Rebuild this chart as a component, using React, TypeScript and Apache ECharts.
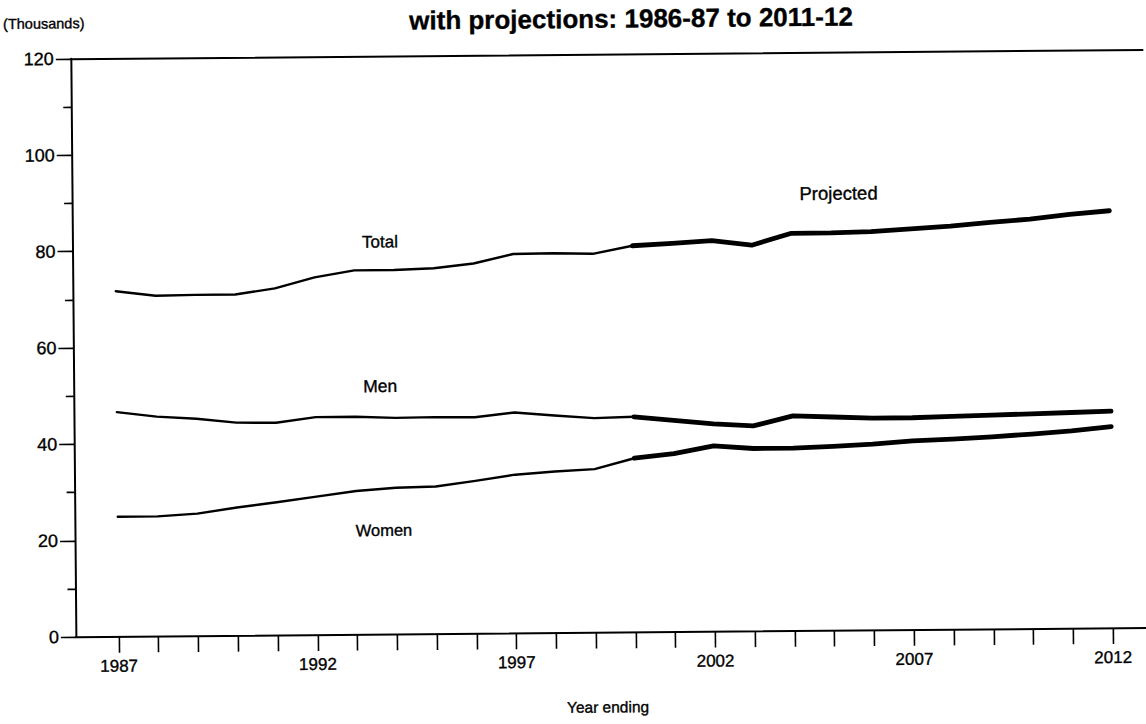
import React, { useEffect, useRef } from "react";
import * as echarts from "echarts";

const years = [1987, 1988, 1989, 1990, 1991, 1992, 1993, 1994, 1995, 1996, 1997, 1998, 1999, 2000, 2001, 2002, 2003, 2004, 2005, 2006, 2007, 2008, 2009, 2010, 2011, 2012];
const total = [71.7, 70.7, 70.8, 70.8, 72.0, 74.2, 75.6, 75.6, 75.9, 76.8, 78.7, 78.8, 78.6, 80.2, 80.6, 81.1, 80.1, 82.5, 82.5, 82.7, 83.2, 83.7, 84.4, 85.0, 85.9, 86.6];
const men = [46.6, 45.6, 45.1, 44.2, 44.1, 45.2, 45.2, 44.9, 45.0, 44.9, 45.8, 45.1, 44.5, 44.7, 43.9, 43.1, 42.6, 44.6, 44.3, 44.0, 44.0, 44.2, 44.4, 44.6, 44.8, 45.0];
const women = [24.9, 24.9, 25.4, 26.6, 27.6, 28.7, 29.8, 30.4, 30.6, 31.7, 32.9, 33.5, 33.9, 36.1, 37.0, 38.5, 37.9, 37.9, 38.2, 38.6, 39.2, 39.5, 39.9, 40.4, 41.0, 41.8];
const projectionStart = 2000;
const labelYears = [1987, 1992, 1997, 2002, 2007, 2012];
const seriesNames = ["Total", "Men", "Women"];

const FONT = "'Liberation Sans', Arial, sans-serif";

export default function App() {
  const ref = useRef<HTMLDivElement>(null);
  useEffect(() => {
    document.body.style.margin = "0";
    document.body.style.overflow = "hidden";
    const chart = echarts.init(ref.current!, null, { renderer: "svg" });
    const allSeries = [total, men, women];
    const series: any[] = [];
    allSeries.forEach((vals, i) => {
      const actual = years.map((y, k) => [y, vals[k]]).filter((d) => d[0] <= projectionStart);
      const proj = years.map((y, k) => [y, vals[k]]).filter((d) => d[0] >= projectionStart);
      series.push({
        name: seriesNames[i],
        type: "line",
        data: actual,
        showSymbol: false,
        symbol: "none",
        lineStyle: { color: "#000", width: 2.4, join: "round", cap: "round" },
        z: 3,
      });
      series.push({
        name: seriesNames[i] + " projected",
        type: "line",
        data: proj,
        showSymbol: false,
        symbol: "none",
        lineStyle: { color: "#000", width: 4.8, join: "round", cap: "round" },
        z: 3,
      });
    });
    const xMin = 1985.92;
    const xMax = 2012.89;
    const txt = (text: string, x: number, y: number, size: number, align = "center", weight = "normal") => ({
      type: "text",
      x,
      y,
      style: {
        text,
        fill: "#000",
        font: `${weight} ${size}px ${FONT}`,
        textAlign: align,
        textVerticalAlign: "middle",
        stroke: "#000",
        lineWidth: 0.35,
      },
    });
    chart.setOption({
      animation: false,
      backgroundColor: "#fff",
      grid: { left: 73.5, top: 54.5, right: 0, bottom: 91.3, containLabel: false },
      xAxis: [
        {
          type: "value",
          position: "bottom",
          min: xMin,
          max: xMax,
          axisLine: { show: true, lineStyle: { color: "#000", width: 2 } },
          axisTick: { show: true, customValues: years, length: 16, lineStyle: { color: "#000", width: 1.6 } },
          axisLabel: {
            customValues: labelYears,
            margin: 21,
            color: "#000",
            fontSize: 17,
            fontFamily: FONT,
            textBorderColor: "#000",
            textBorderWidth: 0.35,
            formatter: (v: number) => String(v),
          },
          splitLine: { show: false },
        },
        {
          type: "value",
          position: "top",
          min: xMin,
          max: xMax,
          axisLine: { show: true, lineStyle: { color: "#000", width: 2 } },
          axisTick: { show: false },
          axisLabel: { show: false },
          splitLine: { show: false },
        },
      ],
      yAxis: {
        type: "value",
        min: 0,
        max: 120,
        interval: 20,
        axisLine: { show: true, lineStyle: { color: "#000", width: 2 } },
        axisTick: { show: true, length: 15, lineStyle: { color: "#000", width: 1.6 } },
        minorTick: { show: true, splitNumber: 2, length: 8, lineStyle: { color: "#000", width: 1.6 } },
        axisLabel: {
          margin: 17,
          color: "#000",
          fontSize: 18,
          fontFamily: FONT,
          textBorderColor: "#000",
          textBorderWidth: 0.35,
        },
        splitLine: { show: false },
      },
      graphic: [
        txt("with projections: 1986-87 to 2011-12", 634, 19, 26, "center", "bold"),
        txt("(Thousands)", 6, 19, 14.5, "left"),
        txt("Total", 381, 240.3, 17),
        txt("Men", 380, 384.3, 17.5),
        txt("Women", 382.5, 528.3, 16.5),
        txt("Projected", 840, 195.5, 18.5),
        txt("Year ending", 605, 707.3, 15.5),
      ],
      series,
    });
    return () => chart.dispose();
  }, []);
  return (
    <div
      ref={ref}
      style={{
        position: "absolute",
        left: 0,
        top: 0,
        width: 1146,
        height: 724,
        background: "#fff",
        transform: "rotate(-0.5deg)",
        transformOrigin: "573px 362px",
      }}
    />
  );
}
